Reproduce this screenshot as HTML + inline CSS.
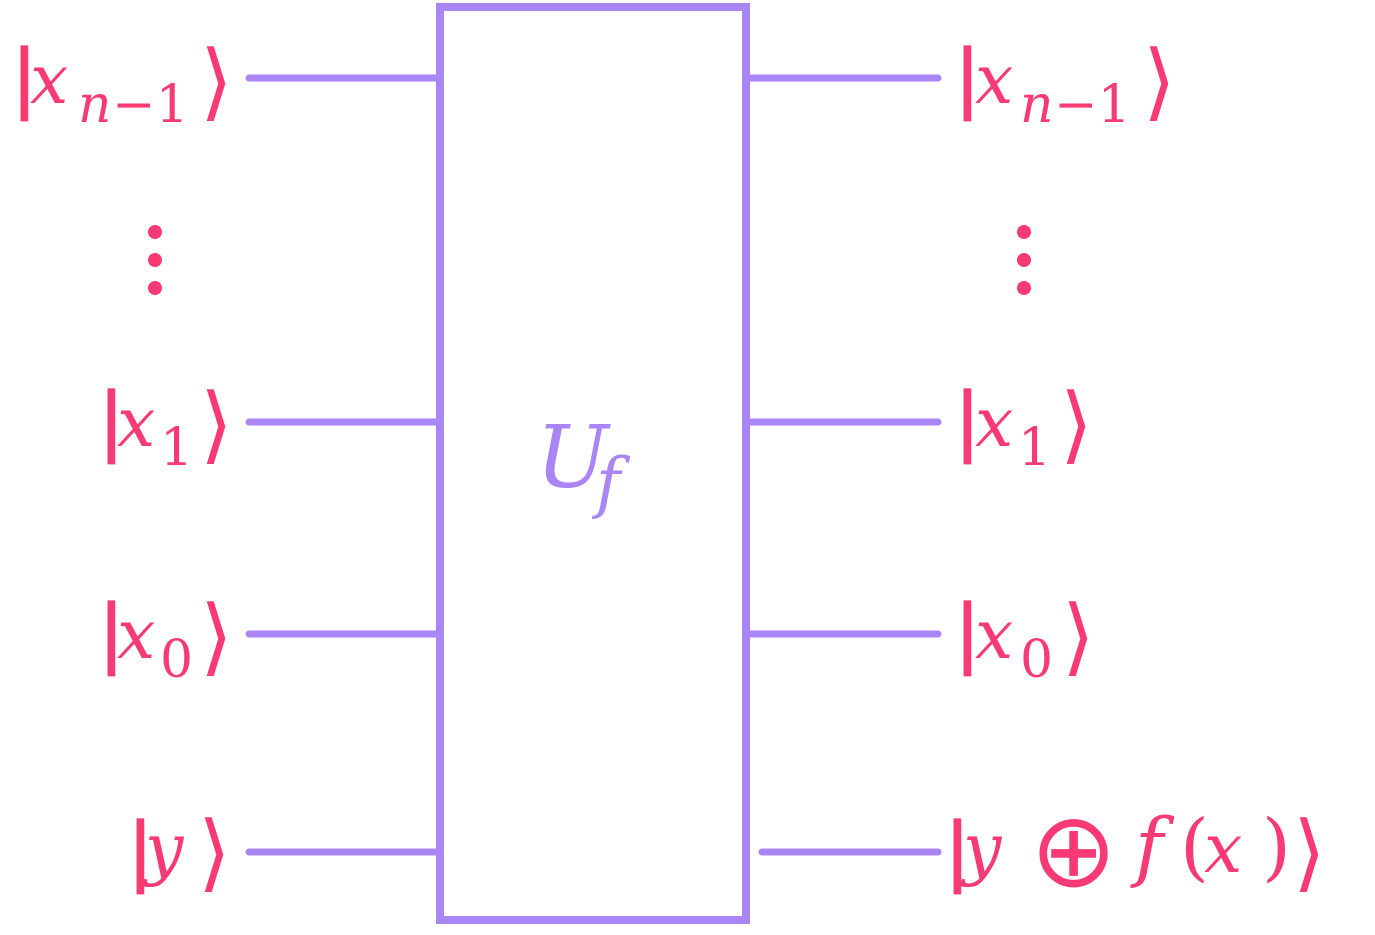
<!DOCTYPE html>
<html><head><meta charset="utf-8"><style>
html,body{margin:0;padding:0;background:#fff;width:1375px;height:935px;overflow:hidden}
svg{display:block}
.t{fill:#f73a74;font-family:"DejaVu Serif","Liberation Serif",serif;font-style:italic}
.b{fill:#f73a74;stroke:#f73a74;stroke-width:1.2;font-family:"Liberation Sans",sans-serif;font-size:80px}
.a{fill:#f73a74;font-family:"DejaVu Sans",sans-serif;font-size:84px}
.s{fill:#f73a74;font-family:"DejaVu Serif","Liberation Serif",serif;font-size:52px}
</style></head><body>
<svg width="1375" height="935" viewBox="0 0 1375 935">
<g stroke="#a986f4" stroke-width="7" stroke-linecap="round" fill="none">
<rect x="440" y="7" width="306" height="913" stroke-width="8"/>
<line x1="249" y1="78" x2="440" y2="78"/><line x1="249" y1="422" x2="440" y2="422"/>
<line x1="249" y1="634" x2="440" y2="634"/><line x1="249" y1="852" x2="440" y2="852"/>
<line x1="750" y1="78" x2="938" y2="78"/><line x1="750" y1="422" x2="938" y2="422"/>
<line x1="750" y1="634" x2="938" y2="634"/><line x1="762" y1="852" x2="938" y2="852"/>
</g>
<g fill="#f73a74"><circle cx="155" cy="232" r="7"/><circle cx="155" cy="260" r="7"/><circle cx="155" cy="288" r="7"/>
<circle cx="1024" cy="232" r="7"/><circle cx="1024" cy="260" r="7"/><circle cx="1024" cy="288" r="7"/></g>
<text x="536" y="487" font-family="DejaVu Serif,serif" font-style="italic" font-size="86" fill="#a986f4">U</text>
<text x="596" y="505" font-family="DejaVu Serif,serif" font-style="italic" font-size="66" fill="#a986f4">f</text>
<!-- left -->
<text class="b" x="14" y="104">|</text><text class="t" x="30" y="103" font-size="68">x</text>
<text class="t" x="78" y="122" font-size="52">n</text><text class="s" x="112" y="122">−1</text><text class="a" x="200" y="110">⟩</text>
<text class="b" x="101" y="447">|</text><text class="t" x="117" y="446" font-size="68">x</text><text class="s" x="160" y="465">1</text><text class="a" x="200" y="453">⟩</text>
<text class="b" x="101" y="659">|</text><text class="t" x="117" y="658" font-size="68">x</text><text class="s" x="160" y="677">0</text><text class="a" x="200" y="665">⟩</text>
<text class="b" x="130" y="877">|</text><text class="t" x="145" y="872" font-size="68">y</text><text class="a" x="198" y="881">⟩</text>
<!-- right -->
<text class="b" x="957" y="104">|</text><text class="t" x="975" y="103" font-size="68">x</text>
<text class="t" x="1020" y="122" font-size="52">n</text><text class="s" x="1054" y="122">−1</text><text class="a" x="1143" y="110">⟩</text>
<text class="b" x="957" y="447">|</text><text class="t" x="975" y="446" font-size="68">x</text><text class="s" x="1018" y="465">1</text><text class="a" x="1060" y="453">⟩</text>
<text class="b" x="957" y="659">|</text><text class="t" x="975" y="658" font-size="68">x</text><text class="s" x="1020" y="677">0</text><text class="a" x="1062" y="665">⟩</text>
<text class="b" x="947" y="877">|</text><text class="t" x="963" y="872" font-size="68">y</text>
<text x="1030" y="886" font-family="DejaVu Sans,sans-serif" font-size="104" fill="#f73a74">⊕</text>
<text class="t" x="1135" y="872" font-size="76">f</text>
<text x="1180" y="872" font-family="DejaVu Serif,serif" font-size="74" fill="#f73a74">(</text>
<text class="t" x="1204" y="872" font-size="68">x</text>
<text x="1262" y="872" font-family="DejaVu Serif,serif" font-size="74" fill="#f73a74">)</text>
<text class="a" x="1293" y="881">⟩</text>
</svg>
</body></html>
